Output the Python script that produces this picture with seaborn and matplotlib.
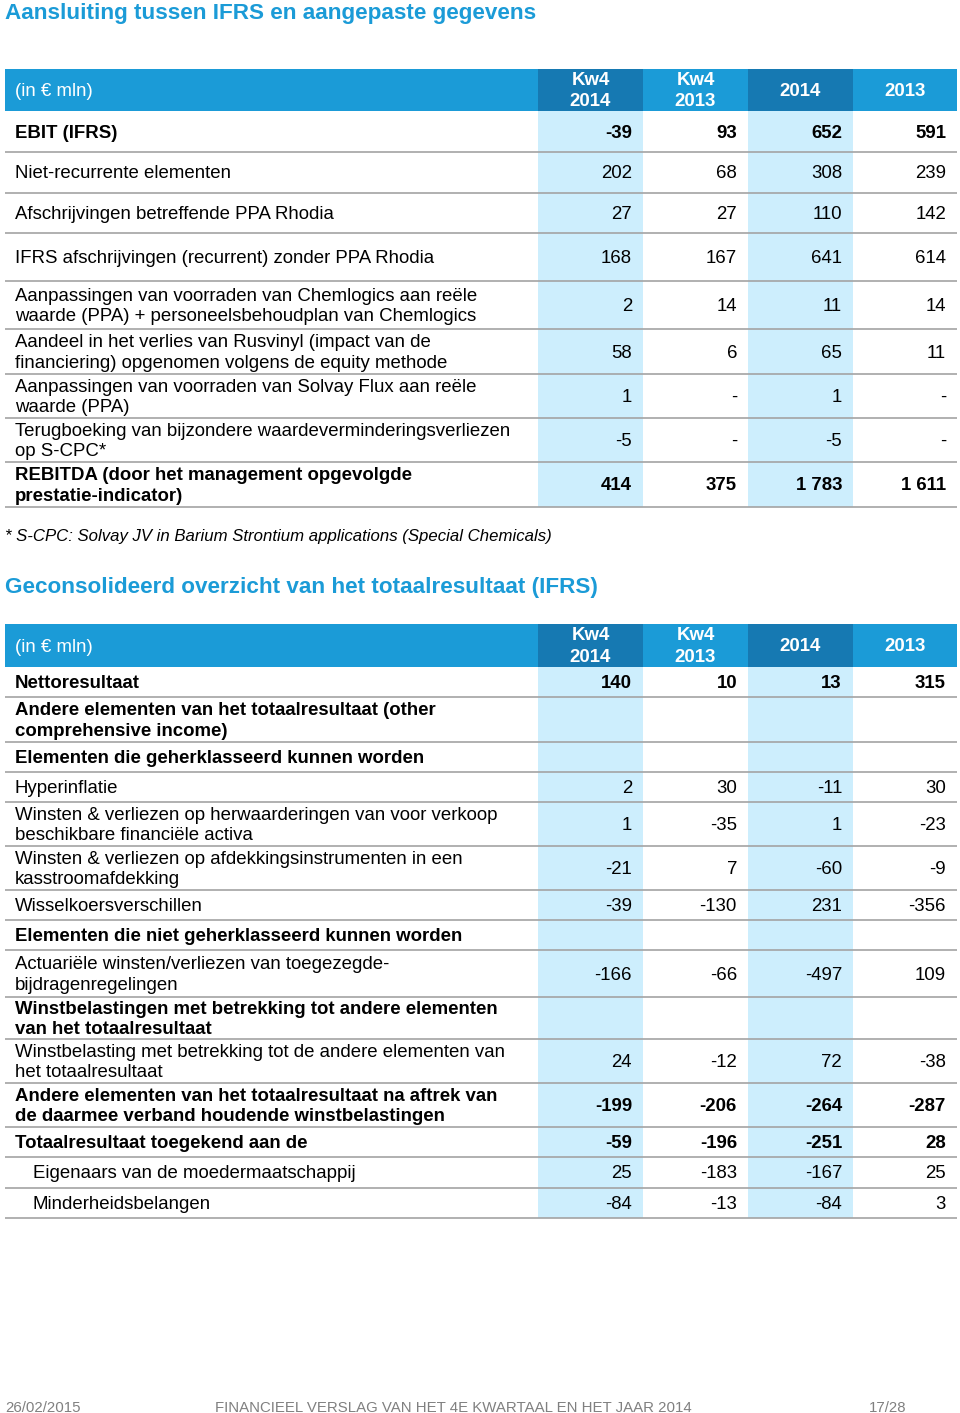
import matplotlib.pyplot as plt
import matplotlib.patches as patches
import seaborn as sns

# ---- data -------------------------------------------------------------
COLUMNS = ["Kw4\n2014", "Kw4\n2013", "2014", "2013"]
UNIT_LABEL = "(in € mln)"

TITLE_1 = "Aansluiting tussen IFRS en aangepaste gegevens"
T1_LABELS = [
    "EBIT (IFRS)",
    "Niet-recurrente elementen",
    "Afschrijvingen betreffende PPA Rhodia",
    "IFRS afschrijvingen (recurrent) zonder PPA Rhodia",
    "Aanpassingen van voorraden van Chemlogics aan reële\nwaarde (PPA) + personeelsbehoudplan van Chemlogics",
    "Aandeel in het verlies van Rusvinyl (impact van de\nfinanciering) opgenomen volgens de equity methode",
    "Aanpassingen van voorraden van Solvay Flux aan reële\nwaarde (PPA)",
    "Terugboeking van bijzondere waardeverminderingsverliezen\nop S-CPC*",
    "REBITDA (door het management opgevolgde\nprestatie-indicator)",
]
T1_BOLD = [True, False, False, False, False, False, False, False, True]
T1_KW4_2014 = [-39, 202, 27, 168, 2, 58, 1, -5, 414]
T1_KW4_2013 = [93, 68, 27, 167, 14, 6, None, None, 375]
T1_2014 = [652, 308, 110, 641, 11, 65, 1, -5, 1783]
T1_2013 = [591, 239, 142, 614, 14, 11, None, None, 1611]
FOOTNOTE = "* S-CPC: Solvay JV in Barium Strontium applications (Special Chemicals)"

TITLE_2 = "Geconsolideerd overzicht van het totaalresultaat (IFRS)"
T2_LABELS = [
    "Nettoresultaat",
    "Andere elementen van het totaalresultaat (other\ncomprehensive income)",
    "Elementen die geherklasseerd kunnen worden",
    "Hyperinflatie",
    "Winsten & verliezen op herwaarderingen van voor verkoop\nbeschikbare financiële activa",
    "Winsten & verliezen op afdekkingsinstrumenten in een\nkasstroomafdekking",
    "Wisselkoersverschillen",
    "Elementen die niet geherklasseerd kunnen worden",
    "Actuariële winsten/verliezen van toegezegde-\nbijdragenregelingen",
    "Winstbelastingen met betrekking tot andere elementen\nvan het totaalresultaat",
    "Winstbelasting met betrekking tot de andere elementen van\nhet totaalresultaat",
    "Andere elementen van het totaalresultaat na aftrek van\nde daarmee verband houdende winstbelastingen",
    "Totaalresultaat toegekend aan de",
    "Eigenaars van de moedermaatschappij",
    "Minderheidsbelangen",
]
T2_BOLD = [True, True, True, False, False, False, False, True, False, True, False, True, True, False, False]
T2_INDENT = [False] * 13 + [True, True]
T2_KW4_2014 = [140, "", "", 2, 1, -21, -39, "", -166, "", 24, -199, -59, 25, -84]
T2_KW4_2013 = [10, "", "", 30, -35, 7, -130, "", -66, "", -12, -206, -196, -183, -13]
T2_2014 = [13, "", "", -11, 1, -60, 231, "", -497, "", 72, -264, -251, -167, -84]
T2_2013 = [315, "", "", 30, -23, -9, -356, "", 109, "", -38, -287, 28, 25, 3]

FOOTER = ["26/02/2015", "FINANCIEEL VERSLAG VAN HET 4E KWARTAAL EN HET JAAR 2014", "17/28"]

# ---- layout (pixels) --------------------------------------------------
W, H = 960, 1413
LEFT, RIGHT = 5, 957
COL_EDGES = [538, 643, 748, 853, 957]
T1_HEADER = (69, 111)
T1_ROW_H = [41, 41, 40, 48, 48, 45, 44, 44, 45]
T2_HEADER = (624, 667)
T2_ROW_H = [30, 45, 30, 30, 44, 44, 30, 30, 47, 42, 44, 44, 30, 31, 30]

BLUE = "#1b9bd7"
DARK_BLUE = "#1679b2"
PALE = "#cdeefd"
GRID = "#a3a3a3"
FONT = 13.4

sns.set_theme(style="white")
plt.rcParams["font.family"] = ["Liberation Sans", "DejaVu Sans"]

fig = plt.figure(figsize=(W / 100, H / 100), dpi=100)
ax = fig.add_axes([0, 0, 1, 1])
ax.set_xlim(0, W)
ax.set_ylim(H, 0)
ax.axis("off")


def fmt(v):
    if v is None:
        return "-"
    if v == "":
        return ""
    return f"{v:,}".replace(",", " ")


def draw_table(header, row_heights, labels, bold, series, indent=None):
    top, bot = header
    ax.add_patch(patches.Rectangle((LEFT, top), RIGHT - LEFT, bot - top, color=BLUE, lw=0))
    for i in (0, 2):
        x0, x1 = COL_EDGES[i], COL_EDGES[i + 1]
        ax.add_patch(patches.Rectangle((x0, top), x1 - x0, bot - top, color=DARK_BLUE, lw=0))
    yc = (top + bot) / 2
    ax.text(15, yc + 2, UNIT_LABEL, color="white", fontsize=FONT, va="center", ha="left")
    for i, name in enumerate(COLUMNS):
        xc = (COL_EDGES[i] + COL_EDGES[i + 1]) / 2
        ax.text(xc, yc + 1, name, color="white", fontsize=FONT, fontweight="bold",
                va="center", ha="center", linespacing=1.32)

    body_bottom = bot + sum(row_heights)
    for i in (0, 2):
        x0, x1 = COL_EDGES[i], COL_EDGES[i + 1]
        ax.add_patch(patches.Rectangle((x0, bot), x1 - x0, body_bottom - bot, color=PALE, lw=0))

    y = bot
    for r, h in enumerate(row_heights):
        yc = y + h / 2 + 1.5
        weight = "bold" if bold[r] else "normal"
        x_lab = 33 if (indent and indent[r]) else 15
        ax.text(x_lab, yc, labels[r], fontsize=FONT, fontweight=weight, color="black",
                va="center", ha="left", linespacing=1.27)
        for c, vals in enumerate(series):
            ax.text(COL_EDGES[c + 1] - 11, yc, fmt(vals[r]), fontsize=FONT, fontweight=weight,
                    color="black", va="center", ha="right")
        y += h
        ax.plot([LEFT, RIGHT], [y, y], color=GRID, lw=1.2, solid_capstyle="butt")


ax.text(5, 14, TITLE_1, color=BLUE, fontsize=16.2, fontweight="bold", va="center", ha="left")
draw_table(T1_HEADER, T1_ROW_H, T1_LABELS, T1_BOLD,
           [T1_KW4_2014, T1_KW4_2013, T1_2014, T1_2013])
ax.text(5, 537, FOOTNOTE, fontsize=12.1, style="italic", color="black", va="center", ha="left")

ax.text(5, 588, TITLE_2, color=BLUE, fontsize=16.2, fontweight="bold", va="center", ha="left")
draw_table(T2_HEADER, T2_ROW_H, T2_LABELS, T2_BOLD,
           [T2_KW4_2014, T2_KW4_2013, T2_2014, T2_2013], indent=T2_INDENT)

for x, txt in zip([5, 215, 869], FOOTER):
    ax.text(x, 1408, txt, fontsize=10.8, color="#808080", va="center", ha="left")

fig.savefig("out.png", dpi=100)
